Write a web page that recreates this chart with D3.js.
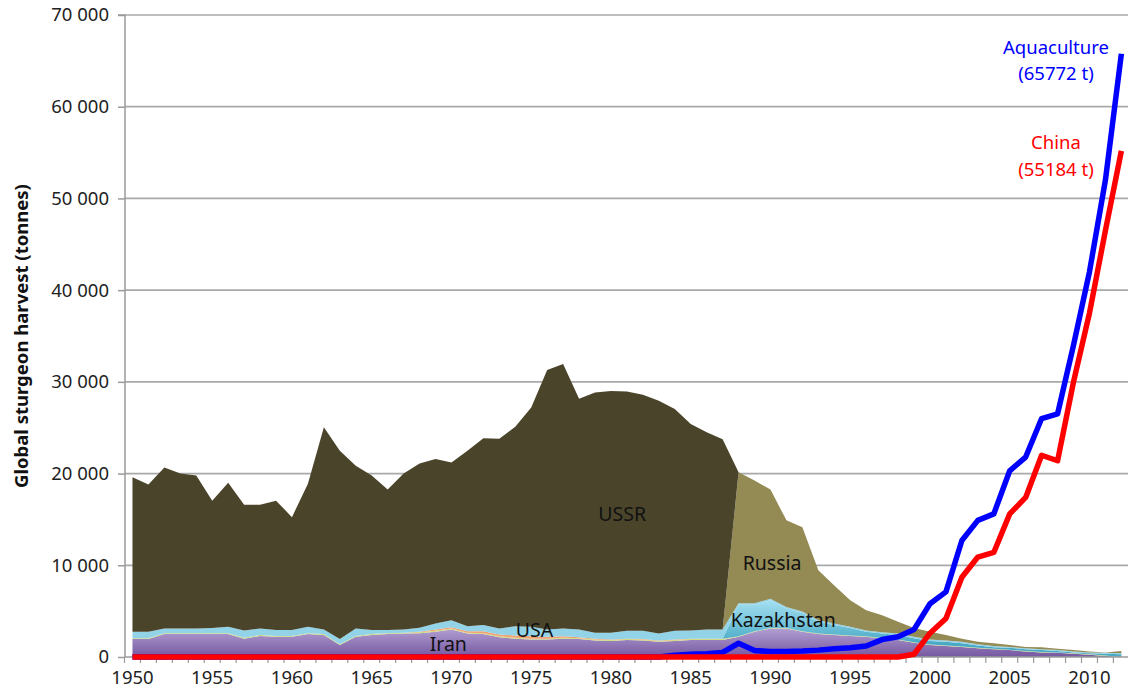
<!DOCTYPE html>
<html>
<head>
<meta charset="utf-8">
<script src="https://cdn.jsdelivr.net/npm/d3@7"></script>
<style>
  body { margin: 0; background: #fff; }
  svg { display: block; font-family: "Noto Sans", "Open Sans", sans-serif; }
</style>
</head>
<body>
<svg id="chart" width="1128" height="692"></svg>
<script>
"use strict";

const years = d3.range(1950, 2013);

// stacked captures (tonnes), bottom to top
const iran = [
  1950, 1950, 2500, 2500, 2500, 2500, 2500, 2000, 2300, 2200,
  2200, 2500, 2400, 1300, 2200, 2400, 2500, 2550, 2600, 2750,
  3000, 2550, 2500, 2150, 2000, 1900, 1900, 2000, 1950, 1800,
  1750, 1850, 1800, 1650, 1750, 1850, 1850, 1850, 2200, 2750,
  3100, 3100, 2750, 2500, 2400, 2300, 2200, 2000, 1850, 1550,
  1300, 1200, 1100, 950, 850, 750, 600, 500, 450, 350,
  250, 100, 0,
];
const other1 = [
  100, 100, 100, 100, 100, 100, 100, 100, 100, 100,
  100, 100, 100, 80, 100, 100, 100, 100, 100, 100,
  100, 100, 100, 100, 100, 100, 100, 100, 100, 100,
  100, 100, 100, 100, 100, 100, 100, 100, 50, 50,
  50, 50, 50, 50, 50, 50, 50, 50, 50, 50,
  50, 50, 50, 50, 50, 50, 50, 50, 50, 50,
  50, 50, 0,
];
const other2 = [
  0, 0, 0, 0, 0, 0, 0, 0, 0, 0,
  0, 0, 0, 0, 0, 0, 0, 0, 50, 150,
  150, 150, 200, 200, 250, 250, 200, 150, 100, 100,
  50, 50, 50, 50, 50, 50, 50, 50, 0, 0,
  0, 0, 0, 0, 0, 0, 0, 0, 0, 0,
  0, 0, 0, 0, 0, 0, 0, 0, 0, 0,
  0, 0, 0,
];
const kazakhstan = [
  0, 0, 0, 0, 0, 0, 0, 0, 0, 0,
  0, 0, 0, 0, 0, 0, 0, 0, 0, 0,
  0, 0, 0, 0, 0, 0, 0, 0, 0, 0,
  0, 0, 0, 0, 0, 0, 0, 0, 3450, 2900,
  3050, 2150, 2000, 1300, 1050, 800, 500, 500, 500, 450,
  400, 400, 350, 250, 150, 200, 200, 200, 150, 100,
  100, 200, 300,
];
const usa = [
  700, 700, 500, 500, 500, 550, 700, 800, 700, 650,
  650, 700, 500, 570, 800, 450, 350, 350, 450, 650,
  750, 550, 700, 650, 1000, 1050, 800, 850, 850, 650,
  750, 850, 900, 750, 950, 900, 1000, 1000, 150, 150,
  150, 150, 150, 150, 150, 150, 150, 150, 150, 150,
  150, 150, 150, 150, 150, 100, 100, 100, 100, 100,
  100, 100, 100,
];
const russia = [
  0, 0, 0, 0, 0, 0, 0, 0, 0, 0,
  0, 0, 0, 0, 0, 0, 0, 0, 0, 0,
  0, 0, 0, 0, 0, 0, 0, 0, 0, 0,
  0, 0, 0, 0, 0, 0, 0, 0, 14300, 13400,
  11900, 9450, 9200, 5450, 4150, 2900, 2200, 1850, 1300, 950,
  850, 600, 350, 250, 300, 200, 150, 200, 150, 150,
  100, 50, 250,
];
const ussr = [
  16850, 16050, 17550, 16900, 16700, 13900, 15700, 13700, 13500, 14100,
  12300, 15600, 22050, 20550, 17750, 16850, 15300, 17000, 17900, 17950,
  17200, 19150, 20350, 20700, 21750, 23900, 28300, 28850, 25150, 26200,
  26350, 26100, 25750, 25400, 24200, 22500, 21500, 20750, 0, 0,
  0, 0, 0, 0, 0, 0, 0, 0, 0, 0,
  0, 0, 0, 0, 0, 0, 0, 0, 0, 0,
  0, 0, 0,
];

// lines
const aquaculture = [
  0, 0, 0, 0, 0, 0, 0, 0, 0, 0,
  0, 0, 0, 0, 0, 0, 0, 0, 0, 0,
  0, 0, 0, 0, 0, 0, 0, 0, 0, 0,
  0, 0, 0, 0, 200, 300, 350, 500, 1500, 700,
  600, 600, 650, 750, 900, 1000, 1200, 1900, 2200, 3000,
  5800, 7100, 12700, 14900, 15600, 20300, 21800, 26000, 26500, 34000,
  42000, 52000, 65772,
];
const china = [
  0, 0, 0, 0, 0, 0, 0, 0, 0, 0,
  0, 0, 0, 0, 0, 0, 0, 0, 0, 0,
  0, 0, 0, 0, 0, 0, 0, 0, 0, 0,
  0, 0, 0, 0, 0, 0, 0, 0, 0, 0,
  0, 0, 0, 0, 0, 0, 0, 0, 0, 300,
  2600, 4200, 8700, 10900, 11400, 15600, 17400, 22000, 21400, 30000,
  37500, 46500, 55184,
];

const yTicks = [0, 10000, 20000, 30000, 40000, 50000, 60000, 70000];
const xLabelYears = [1950, 1955, 1960, 1965, 1970, 1975, 1980, 1985, 1990, 1995, 2000, 2005, 2010];

const layerKeys = ["iran", "other1", "other2", "kazakhstan", "usa", "russia", "ussr"];
const layerData = { iran, other1, other2, kazakhstan, usa, russia, ussr };
[...layerKeys.map((k) => layerData[k]), aquaculture, china].forEach((a) => {
  if (a.length !== years.length) console.warn("bad length", a.length);
});

const table = years.map((yr, i) => {
  const row = { year: yr };
  layerKeys.forEach((k) => (row[k] = layerData[k][i]));
  return row;
});

const W = 1128;
const plotLeft = 125, plotTop = 15, plotBottom = 657;
const step = 15.95;

const svg = d3.select("#chart");

const x = d3.scaleBand().domain(years).range([plotLeft - 0.5, plotLeft - 0.5 + step * years.length]).paddingInner(0).paddingOuter(0);
const xc = (yr) => x(yr) + x.bandwidth() / 2;
const xf = d3.scaleLinear().domain([1950, 2012]).range([xc(1950), xc(2012)]);
const y = d3.scaleLinear().domain([0, 70000]).range([plotBottom, plotTop]);

// gradients
const defs = svg.append("defs");
function vGrad(id, y1, y2, c1, c2) {
  const g = defs.append("linearGradient").attr("id", id)
    .attr("gradientUnits", "userSpaceOnUse")
    .attr("x1", 0).attr("x2", 0).attr("y1", y1).attr("y2", y2);
  g.append("stop").attr("offset", 0).attr("stop-color", c1);
  g.append("stop").attr("offset", 1).attr("stop-color", c2);
}
vGrad("gIran", y(3200), y(0), "#b4a1d4", "#7557a0");
vGrad("gKaz", y(6400), y(1500), "#a8e2f3", "#4aaac6");

const fills = {
  iran: "url(#gIran)",
  other1: "#cddc7c",
  other2: "#f2a173",
  kazakhstan: "url(#gKaz)",
  usa: "#92d3e8",
  russia: "#938a54",
  ussr: "#4a442b",
};

// gridlines
svg.append("g")
  .selectAll("line")
  .data(yTicks.filter((d) => d > 0))
  .enter()
  .append("line")
  .attr("x1", plotLeft).attr("x2", W)
  .attr("y1", (d) => y(d)).attr("y2", (d) => y(d))
  .attr("stroke", "#a9a9a9")
  .attr("stroke-width", 1.7);

// stacked areas
const stack = d3.stack().keys(layerKeys);
const series = stack(table);
const area = d3.area()
  .x((d) => xc(d.data.year))
  .y0((d) => y(d[0]))
  .y1((d) => y(d[1]));

svg.append("g")
  .selectAll("path")
  .data(series)
  .enter()
  .append("path")
  .attr("d", area)
  .attr("fill", (d) => fills[d.key]);

// y axis
const yAxis = d3.axisLeft(y)
  .tickValues(yTicks)
  .tickSize(7)
  .tickPadding(9)
  .tickFormat((d) => d3.format(",")(d).replace(",", " "));
const gy = svg.append("g").attr("transform", `translate(${plotLeft},0)`).call(yAxis);
gy.select(".domain").attr("stroke", "#9a9a9a").attr("stroke-width", 1.5).attr("d", `M-7,${plotTop}H0V${plotBottom}`);
gy.selectAll(".tick line").attr("stroke", "#9a9a9a").attr("stroke-width", 1.5);
gy.selectAll(".tick text").attr("font-size", 18.5).attr("fill", "#222").attr("font-family", "Noto Sans");

// x axis line + ticks at band edges
const gx = svg.append("g");
gx.append("line")
  .attr("x1", plotLeft).attr("x2", W)
  .attr("y1", plotBottom).attr("y2", plotBottom)
  .attr("stroke", "#9a9a9a").attr("stroke-width", 1.5);
gx.selectAll("line.tk")
  .data(years)
  .enter()
  .append("line")
  .attr("class", "tk")
  .attr("x1", (d) => x(d)).attr("x2", (d) => x(d))
  .attr("y1", plotBottom).attr("y2", plotBottom + 6)
  .attr("stroke", "#9a9a9a").attr("stroke-width", 1.2);
gx.selectAll("text")
  .data(xLabelYears)
  .enter()
  .append("text")
  .attr("x", (d) => xc(d))
  .attr("y", plotBottom + 27)
  .attr("text-anchor", "middle")
  .attr("font-size", 18.5)
  .attr("fill", "#222")
  .text((d) => d);

// y title
svg.append("text")
  .attr("transform", `translate(28,336) rotate(-90)`)
  .attr("text-anchor", "middle")
  .attr("font-size", 18.5)
  .attr("font-weight", "bold")
  .attr("fill", "#111")
  .text("Global sturgeon harvest (tonnes)");

// lines
const line = d3.line()
  .x((d, i) => xc(years[i]))
  .y((d) => y(d));

svg.append("path")
  .datum(aquaculture)
  .attr("d", line)
  .attr("fill", "none")
  .attr("stroke", "#0000ff")
  .attr("stroke-width", 5.5)
  .attr("stroke-linejoin", "round");

svg.append("path")
  .datum(china)
  .attr("d", line)
  .attr("fill", "none")
  .attr("stroke", "#ff0000")
  .attr("stroke-width", 5.5)
  .attr("stroke-linejoin", "round");

// labels
const labels = [
  { t: "USSR", yr: 1980.7, v: 15600, c: "#111", fs: 19.5 },
  { t: "Russia", yr: 1990.1, v: 10250, c: "#111", fs: 19.5 },
  { t: "Kazakhstan", yr: 1990.8, v: 4000, c: "#111", fs: 19.5 },
  { t: "USA", yr: 1975.2, v: 2950, c: "#111", fs: 19.5 },
  { t: "Iran", yr: 1969.8, v: 1350, c: "#111", fs: 19.5 },
  { t: "Aquaculture", yr: 2007.9, v: 66450, c: "#0000ff", fs: 18.5 },
  { t: "(65772 t)", yr: 2007.9, v: 63600, c: "#0000ff", fs: 18.5 },
  { t: "China", yr: 2007.9, v: 56050, c: "#ff0000", fs: 18.5 },
  { t: "(55184 t)", yr: 2007.9, v: 53150, c: "#ff0000", fs: 18.5 },
];
svg.append("g")
  .selectAll("text")
  .data(labels)
  .enter()
  .append("text")
  .attr("x", (d) => xf(d.yr))
  .attr("y", (d) => y(d.v))
  .attr("dy", "0.35em")
  .attr("text-anchor", "middle")
  .attr("font-size", (d) => d.fs)
  .attr("fill", (d) => d.c)
  .text((d) => d.t);
</script>
</body>
</html>
